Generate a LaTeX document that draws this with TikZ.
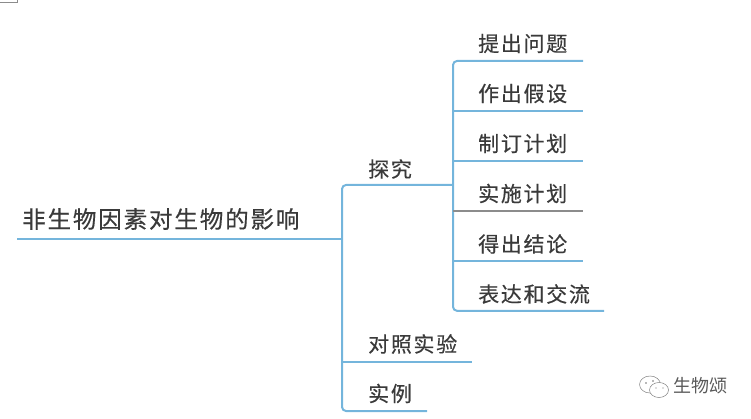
\documentclass[tikz,border=0pt]{standalone}
\usepackage{fontspec}
\newfontfamily\cjkmain[LetterSpace=8,FakeBold=0.4]{Noto Sans CJK SC}
\newfontfamily\cjkmark{Noto Sans CJK SC}
\definecolor{branch}{HTML}{74B5DC}
\definecolor{ink}{HTML}{3A3A3A}
\tikzset{
  leaf/.style={inner sep=0pt,anchor=west,text=ink,font=\cjkmain\fontsize{21}{21}\selectfont},
  rootlabel/.style={leaf,font=\cjkmain\fontsize{23.5}{23.5}\selectfont},
  link/.style={draw=branch,line width=2pt,rounded corners=4pt},
  spur/.style={draw=branch,line width=2pt},
  icon/.style={draw=black!50,line width=.5pt,fill=white}
}
\begin{document}
\begin{tikzpicture}[x=1pt,y=-1pt]
\useasboundingbox (0,0) rectangle (751,419);
\draw[black!45,line width=.6pt] (0,2) -- (17,2) -- (17,0);
% coordinates
\coordinate (rootL) at (17,238.8);
\coordinate (hub) at (342,238.8);
\coordinate (tan) at (453,185);
\coordinate (duiE) at (472,361.8);
\coordinate (shiE) at (427,411);
\coordinate (a) at (583,61);
\coordinate (b) at (583,110.8);
\coordinate (c) at (583,161);
\coordinate (d) at (583,211);
\coordinate (e) at (583,261);
\coordinate (f) at (604,310.8);
% labels
\node[rootlabel] (root) at (22,219) {非生物因素对生物的影响};
\node[leaf] (tanjiu) at (368,169) {探究};
\node[leaf] (duizhao) at (368,344) {对照实验};
\node[leaf] (shili) at (368,393.5) {实例};
\node[leaf] (n1) at (478,43.5) {提出问题};
\node[leaf] (n2) at (478,93.5) {作出假设};
\node[leaf] (n3) at (478,143.5) {制订计划};
\node[leaf] (n4) at (478,193.5) {实施计划};
\node[leaf] (n5) at (478,244) {得出结论};
\node[leaf] (n6) at (478,294) {表达和交流};
% connectors
\draw[spur] (rootL) -- (hub);
\draw[link] (tan) -| (hub) |- (shiE);
\draw[spur] (hub |- duiE) -- (duiE);
\draw[link] (a) -| (tan) |- (f);
\draw[spur] (tan |- b) -- (b);
\draw[spur] (tan |- c) -- (c);
\draw[spur,draw=black!45!white,line width=1.7pt] (tan |- d) -- (d);
\draw[spur] (tan |- e) -- (e);
% watermark
\draw[icon] (650,384.5) ellipse (10.5 and 8.5);
\draw[icon] (659,390) ellipse (9.5 and 7.5);
\fill[black!55] (646,383) circle (.8) (653,381) circle (.8) (656,388) circle (.7) (663,388) circle (.7);
\node[inner sep=0pt,anchor=west,text=black!65,font=\cjkmark\fontsize{18}{18}\selectfont] (mark) at (673,386) {生物颂};
\end{tikzpicture}
\end{document}
